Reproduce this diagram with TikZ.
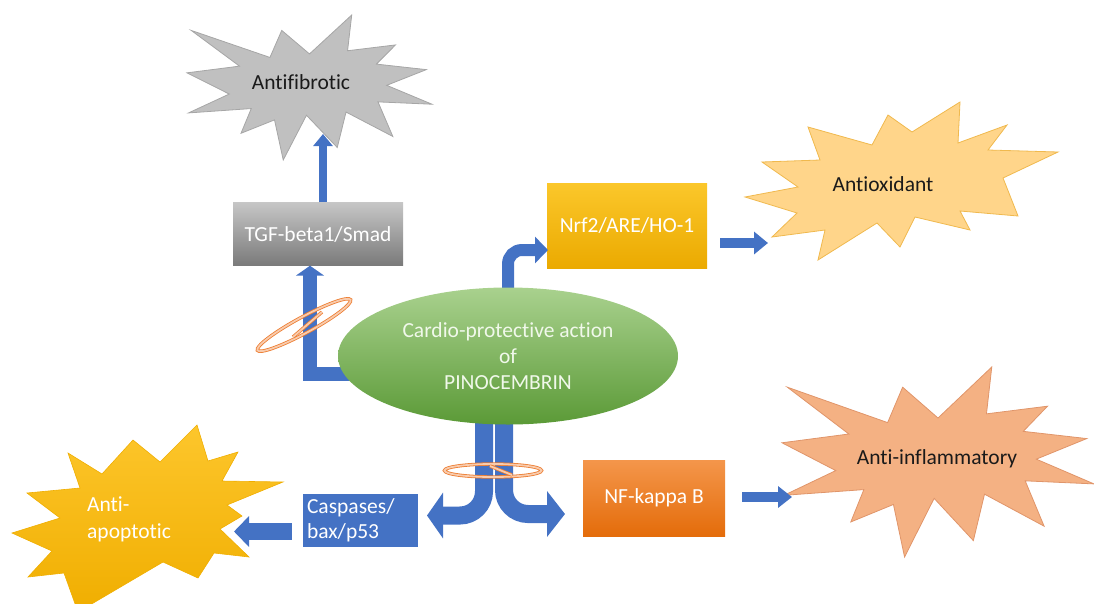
\documentclass[tikz,border=0pt]{standalone}
\usepackage{fontspec}
\setmainfont{Carlito}[Ligatures={NoCommon}]
\usetikzlibrary{arrows.meta,shapes.geometric,calc}
\definecolor{ablue}{HTML}{4472C4}
\definecolor{ringo}{HTML}{ED7D31}
\definecolor{ringp}{HTML}{F8CBAD}
\definecolor{gfill}{HTML}{C0C0C0}
\definecolor{gline}{HTML}{A6A6A6}
\definecolor{oxfill}{HTML}{FFD58A}
\definecolor{oxline}{HTML}{F0B94E}
\definecolor{inffill}{HTML}{F4B183}
\definecolor{infline}{HTML}{E0956A}
\definecolor{apotop}{HTML}{FDC62C}
\definecolor{apobot}{HTML}{F0AE00}
\definecolor{eltop}{HTML}{A9D18E}
\definecolor{elbot}{HTML}{5B9A37}
\definecolor{eltext}{HTML}{F0F8EA}
\definecolor{tgftop}{HTML}{C6C6C6}
\definecolor{tgfbot}{HTML}{7A7A7A}
\definecolor{nrftop}{HTML}{FBC72B}
\definecolor{nrfbot}{HTML}{EBAA00}
\definecolor{nftop}{HTML}{F4964B}
\definecolor{nfbot}{HTML}{E46C0A}
\definecolor{txt}{HTML}{1A1A1A}
\newcommand{\mkburst}[5]{%
 \path[#5, shift={(#1,#2)}, xscale=#3, yscale=#4] (108,58) -- (145.22,0) -- (141.55,53.25) -- (183.80,44.57) -- (167.02,73.15) -- (210.97,81.37) -- (176.07,104.75) -- (216,132.90) -- (168.37,129.42) -- (181.45,180.95) -- (140.20,144.57) -- (132.47,197.37) -- (105.32,149.35) -- (84.85,216) -- (77.15,156.27) -- (47.62,176.17) -- (56.67,139.37) -- (1.35,145.87) -- (37.22,117.75) -- (0,86.15) -- (46.27,76.17) -- (3.70,22.95) -- (73.12,63.20) -- (83.52,22.95) -- cycle;}
\begin{document}
\begin{tikzpicture}[x=1pt,y=-1pt,
  font=\fontsize{21.5}{26}\selectfont,
  lbl/.style={text=txt, inner sep=0pt},
  boxnode/.style={rectangle, text=white, inner sep=0pt, align=center},
  barrow/.style={draw=ablue, line width=#1},
  ring/.style={draw=ringo, line width=0.8pt, double=ringp, double distance=1.8pt}]
\useasboundingbox (0,0) rectangle (1094,603);
\begin{scope}
\clip (0,0) rectangle (1094,603);
% bursts
\mkburst{187}{15}{1.1343}{0.6713}{fill=gfill, draw=gline, line width=0.8pt}
\mkburst{782}{367}{1.4444}{0.8796}{fill=inffill, draw=infline, line width=0.8pt}
\path[fill=oxfill, draw=oxline, line width=0.8pt] (745,197) -- (798,187) -- (762,162) -- (820,160) -- (808,127) -- (872,145) -- (888,115) -- (912,132) -- (960,102) -- (958,143) -- (1007,125) -- (988,150) -- (1058,152) -- (1003,178) -- (1018,216) -- (960,211) -- (970,230) -- (915,217) -- (900,247) -- (877,223) -- (818,260) -- (825,230) -- (772,237) -- (797,213) -- cycle;
\path[top color=apotop, bottom color=apobot, draw=apobot, line width=0.6pt] (197,425) -- (208,461) -- (238,452) -- (222,481) -- (283,482) -- (227,505) -- (242,516) -- (220,529) -- (249,557) -- (214,553) -- (198,578) -- (163,562) -- (78,612) -- (64,573) -- (28,577) -- (52,551) -- (12,533) -- (60,518) -- (27,493) -- (80,488) -- (68,453) -- (102,474) -- (133,440) -- (160,462) -- cycle;
\end{scope}
\node[lbl] (afib) at (301,82) {Antifibrotic};
\node[lbl] (aox) at (883,184) {Antioxidant};
\node[lbl] (ainf) at (937,459) {Anti-inflammatory};
\node[lbl, text=white, align=left, anchor=west, font=\fontsize{21.5}{27}\selectfont] (aapo) at (87,519) {Anti-\\apoptotic};
% boxes
\node[boxnode, minimum width=170, minimum height=63, top color=tgftop, bottom color=tgfbot] (tgf) at (318,234) {TGF-beta1/Smad};
\node[boxnode, minimum width=160, minimum height=85, top color=nrftop, bottom color=nrfbot] (nrf) at (627,225.5) {Nrf2/ARE/HO-1};
\node[boxnode, minimum width=142, minimum height=76, top color=nftop, bottom color=nfbot] (nf) at (654,498) {NF-kappa B};
\node[boxnode, minimum width=115, minimum height=53, fill=ablue, text width=107, align=left, inner xsep=4pt, font=\fontsize{21.5}{25}\selectfont] (casp) at (360.5,520.5) {Caspases/\\bax/p53};
% coordinates
\coordinate (afibtip) at (323,134);
\coordinate (tgfin) at (310,373.5);
\coordinate (nrfin) at (548,250);
\coordinate (aoxtip) at (768,243);
\coordinate (ainftip) at (792,497);
\coordinate (aaptip) at (234,531.5);
\coordinate (splitL) at (484,405);
\coordinate (splitR) at (504,405);
\coordinate (casptip) at (427,515.5);
\coordinate (nftip) at (565,514);
% arrows
\draw[barrow=8pt, -{Triangle[length=12pt,width=19pt]}] (tgf.north -| afibtip) -- (afibtip);
\draw[barrow=14pt, line join=miter, -{Triangle[length=10pt,width=28pt]}] ($(tgfin)+(50,0)$) -- (tgfin) -- (tgfin |- tgf.south);
\draw[barrow=12pt, rounded corners=14pt, -{Triangle[length=13pt,width=26pt]}] (508,300) -- (508,250) -- (nrfin);
\draw[barrow=10pt, -{Triangle[length=14pt,width=22pt]}] ($(nrf.east |- aoxtip)+(13,0)$) -- (aoxtip);
\draw[barrow=10pt, -{Triangle[length=14pt,width=21pt]}] ($(nf.east |- ainftip)+(17,0)$) -- (ainftip);
\draw[barrow=17pt, -{Triangle[length=15pt,width=30pt]}] ($(casp.west |- aaptip)+(-11,0)$) -- (aaptip);
\draw[barrow=18pt, rounded corners=24pt, -{Triangle[length=16pt,width=45pt]}] (splitL) -- (splitL |- casptip) -- (casptip);
\draw[barrow=18pt, rounded corners=24pt, -{Triangle[length=18pt,width=45pt]}] (splitR) -- (splitR |- nftip) -- (nftip);
% central ellipse
\node[ellipse, minimum width=340, minimum height=137, inner sep=0pt, top color=eltop, bottom color=elbot, text=eltext, align=center, font=\fontsize{21.5}{26}\selectfont] (pino) at (508,356) {Cardio-protective action\\of\\PINOCEMBRIN};
% rings
\draw[ring, rotate around={28.5:(304,325)}] (304,325) ellipse [x radius=53, y radius=8];
\draw[ring] (293,337) -- (322,312);
\draw[ring] (493,470.5) ellipse [x radius=48.5, y radius=6.5];
\draw[ring] (490,466) -- (512,475);
\end{tikzpicture}
\end{document}
